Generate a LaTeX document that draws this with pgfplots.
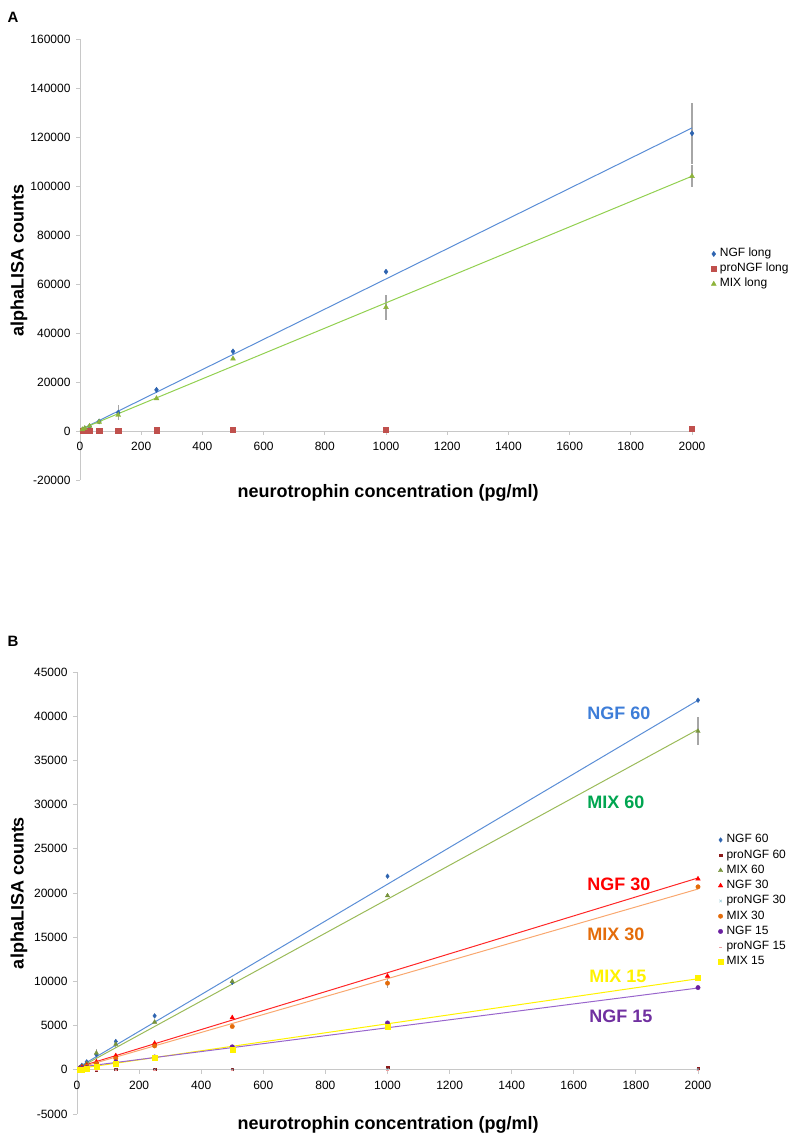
\documentclass[border=0pt]{standalone}
\usepackage{pgfplots}
\pgfplotsset{compat=1.18}
\usepackage{fontspec}
\setmainfont{Liberation Sans}

\definecolor{ngfblue}{HTML}{2E64B0}
\definecolor{ngfline}{HTML}{5B8ED6}
\definecolor{prored}{HTML}{C0504D}
\definecolor{mixgreen}{HTML}{8DB33A}
\definecolor{mixline}{HTML}{92D050}
\definecolor{mixsixty}{HTML}{77933C}
\definecolor{mixsixtyline}{HTML}{9BBB59}
\definecolor{prosixty}{HTML}{8B1A1A}
\definecolor{prothirty}{HTML}{7FBFD0}
\definecolor{mixthirty}{HTML}{E46C0A}
\definecolor{mixthirtyline}{HTML}{F9A870}
\definecolor{ngffifteen}{HTML}{6A1FA0}
\definecolor{ngffifteenline}{HTML}{9966CC}
\definecolor{profifteen}{HTML}{F0A0A0}
\definecolor{annblue}{HTML}{3D7DD8}
\definecolor{anngreen}{HTML}{00A550}
\definecolor{annpurple}{HTML}{7030A0}
\definecolor{axgray}{HTML}{C8C8C8}

\pgfplotsset{
  base/.style={
    scale only axis,
    axis x line=middle, axis y line=left,
    axis line style={draw=axgray, line width=0.9pt, -},
    every tick/.style={draw=axgray, line width=0.9pt},
    major tick length=4pt,
    tick align=outside,
    hide obscured x ticks=false, hide obscured y ticks=false,
    scaled ticks=false,
    tick label style={font=\fontsize{12}{14}\selectfont, text=black},
    xticklabel style={yshift=-4pt},
    yticklabel style={xshift=-2pt},
    clip=false,
    xmin=0, xmax=2000,
    xtick={0,200,400,600,800,1000,1200,1400,1600,1800,2000},
    xticklabels={0,200,400,600,800,1000,1200,1400,1600,1800,2000},
    legend cell align=left,
    legend image code/.code={\draw[mark repeat=2,mark phase=2,##1] plot coordinates {(0pt,0pt)(3pt,0pt)(6pt,0pt)};},
    legend style={draw=none, fill=none, font=\fontsize{12}{14}\selectfont,
      inner sep=0pt, row sep=3pt,
      nodes={inner xsep=3.5pt, inner ysep=0pt, text height=9pt, text depth=3pt}},
  },
  ebar/.style={error bars/y dir=both, error bars/y explicit,
    error bars/error bar style={draw=gray!70, line width=1.2pt}, error bars/error mark=none},
}

\begin{document}
\begin{tikzpicture}
\path[use as bounding box] (0pt,0pt) rectangle (791pt,1143pt);

% ---------------- Panel A ----------------
\begin{axis}[base, at={(80pt,663pt)}, anchor=south west,
  width=612pt, height=441pt,
  ymin=-20000, ymax=160000,
  ytick={-20000,0,20000,40000,60000,80000,100000,120000,140000,160000},
  yticklabels={-20000,0,20000,40000,60000,80000,100000,120000,140000,160000},
  legend style={at={(1.031,0.4785)}, anchor=west}]
\addplot[ebar, only marks, mark=diamond*, mark size=2.6pt, color=ngfblue]
  table[x=x, y=y, y error=e]{
x y e
7.8 500 0
15.6 1000 0
31.25 1900 0
62.5 3900 500
125 7500 3000
250 16800 1000
500 32500 0
1000 65000 0
2000 121500 12500
};
\addlegendentry{NGF long}
\addplot[only marks, mark=square*, mark size=2.6pt, color=prored]
  table[x=x, y=y]{
x y
7.8 0
15.6 100
31.25 200
62.5 150
125 50
250 300
500 400
1000 400
2000 900
};
\addlegendentry{proNGF long}
\addplot[ebar, only marks, mark=triangle*, mark size=2.8pt, color=mixgreen]
  table[x=x, y=y, y error=e]{
x y e
7.8 600 0
15.6 1100 0
31.25 2000 0
62.5 3700 500
125 6500 2000
250 13300 0
500 29500 0
1000 50500 5000
2000 104000 4500
};
\addlegendentry{MIX long}
\addplot[forget plot, no marks, color=ngfline, line width=1pt] coordinates {(7.8,900) (2000,123700)};
\addplot[forget plot, no marks, color=mixline, line width=1pt] coordinates {(7.8,1000) (2000,104000)};
\end{axis}

\node[font=\bfseries\fontsize{15}{17}\selectfont] at (13pt,1126pt) {A};
\node[rotate=90, font=\bfseries\fontsize{18}{20}\selectfont] at (19pt,882pt) {alphaLISA counts};
\node[font=\bfseries\fontsize{18}{20}\selectfont] at (388pt,650pt) {neurotrophin concentration (pg/ml)};

% ---------------- Panel B ----------------
\begin{axis}[base, at={(77pt,29pt)}, anchor=south west,
  width=621pt, height=442pt,
  ymin=-5000, ymax=45000,
  ytick={-5000,0,5000,10000,15000,20000,25000,30000,35000,40000,45000},
  yticklabels={-5000,0,5000,10000,15000,20000,25000,30000,35000,40000,45000},
  legend style={at={(1.032,0.482)}, anchor=west, row sep=3.25pt}]
\addplot[ebar, only marks, mark=diamond*, mark size=2.3pt, color=ngfblue]
  table[x=x, y=y, y error=e]{
x y e
7.8 250 0
15.6 500 0
31.25 900 0
62.5 1700 400
125 3200 300
250 6100 0
500 9900 0
1000 21900 0
2000 41800 0
};
\addlegendentry{NGF 60}
\addplot[only marks, mark=square*, mark size=1.2pt, color=prosixty] coordinates {
(7.8,0) (15.6,0) (31.25,0) (62.5,0) (125,100) (250,100) (500,100) (1000,300) (2000,200)};
\addlegendentry{proNGF 60}
\addplot[ebar, only marks, mark=triangle*, mark size=2.5pt, color=mixsixty]
  table[x=x, y=y, y error=e]{
x y e
7.8 150 0
15.6 350 0
31.25 700 0
62.5 1900 500
125 2900 400
250 5400 0
500 10000 300
1000 19700 0
2000 38300 1600
};
\addlegendentry{MIX 60}
\addplot[only marks, mark=triangle*, mark size=2.6pt, color=red]
  table[x=x, y=y]{
x y
7.8 150
15.6 300
31.25 500
62.5 900
125 1600
250 3000
500 5900
1000 10600
2000 21600
};
\addlegendentry{NGF 30}
\addplot[only marks, mark=x, mark size=1.8pt, color=prothirty] coordinates {
(7.8,0) (15.6,0) (31.25,0) (62.5,0) (125,0) (250,0) (500,0) (1000,50) (2000,50)};
\addlegendentry{proNGF 30}
\addplot[ebar, only marks, mark=*, mark size=2.2pt, color=mixthirty]
  table[x=x, y=y, y error=e]{
x y e
7.8 100 0
15.6 200 0
31.25 400 0
62.5 700 0
125 1300 0
250 2700 0
500 4900 0
1000 9800 600
2000 20700 0
};
\addlegendentry{MIX 30}
\addplot[only marks, mark=*, mark size=2.2pt, color=ngffifteen]
  table[x=x, y=y]{
x y
7.8 100
15.6 150
31.25 250
62.5 400
125 900
250 1450
500 2600
1000 5300
2000 9300
};
\addlegendentry{NGF 15}
\addplot[only marks, mark=-, mark size=1.2pt, color=profifteen] coordinates {
(7.8,0) (15.6,0) (31.25,0) (62.5,0) (125,0) (250,0) (500,0) (1000,0) (2000,0)};
\addlegendentry{proNGF 15}
\addplot[only marks, mark=square*, mark size=2.5pt, color=yellow]
  table[x=x, y=y]{
x y
7.8 0
15.6 50
31.25 150
62.5 300
125 700
250 1400
500 2300
1000 4900
2000 10450
};
\addlegendentry{MIX 15}
\addplot[forget plot, no marks, color=ngfline, line width=1pt] coordinates {(7.8,350) (2000,41800)};
\addplot[forget plot, no marks, color=mixsixtyline, line width=1pt] coordinates {(7.8,250) (2000,38500)};
\addplot[forget plot, no marks, color=red!85, line width=1pt] coordinates {(7.8,350) (2000,21700)};
\addplot[forget plot, no marks, color=mixthirtyline, line width=1pt] coordinates {(7.8,250) (2000,20450)};
\addplot[forget plot, no marks, color=yellow, line width=1pt] coordinates {(7.8,150) (2000,10300)};
\addplot[forget plot, no marks, color=ngffifteenline, line width=1pt] coordinates {(7.8,300) (2000,9250)};
\end{axis}

\node[font=\bfseries\fontsize{15}{17}\selectfont] at (13pt,502pt) {B};
\node[rotate=90, font=\bfseries\fontsize{18}{20}\selectfont] at (19pt,250pt) {alphaLISA counts};
\node[font=\bfseries\fontsize{18}{20}\selectfont] at (388pt,18pt) {neurotrophin concentration (pg/ml)};

\begin{scope}[every node/.style={font=\bfseries\fontsize{18}{20}\selectfont}]
\node[text=annblue] at (619pt,430pt) {NGF 60};
\node[text=anngreen] at (616pt,341pt) {MIX 60};
\node[text=red] at (619pt,259pt) {NGF 30};
\node[text=mixthirty] at (616pt,209pt) {MIX 30};
\node[text=yellow] at (618pt,167pt) {MIX 15};
\node[text=annpurple] at (621pt,127pt) {NGF 15};
\end{scope}
\end{tikzpicture}
\end{document}
